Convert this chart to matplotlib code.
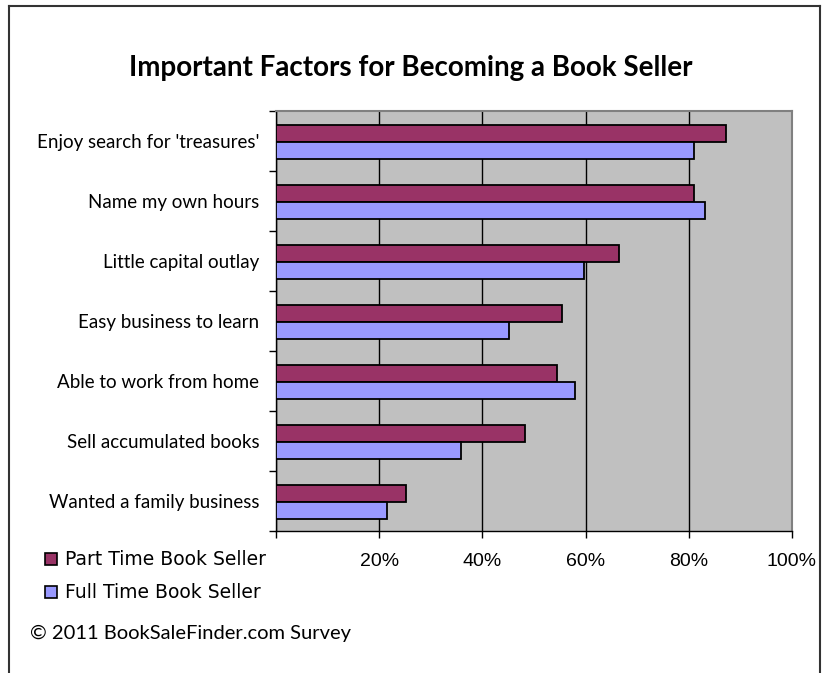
import numpy as np
import matplotlib.pyplot as plt
from matplotlib.patches import Patch
from matplotlib.lines import Line2D

# survey data (percent of respondents)
factors = ["Enjoy search for 'treasures'", "Name my own hours", "Little capital outlay",
           "Easy business to learn", "Able to work from home", "Sell accumulated books",
           "Wanted a family business"]
part_time = [87.3, 81.0, 66.4, 55.5, 54.5, 48.3, 25.2]
full_time = [81.0, 83.1, 59.6, 45.1, 57.9, 35.9, 21.6]
xticks = [20, 40, 60, 80, 100]
xtick_labels = ["20%", "40%", "60%", "80%", "100%"]

purple = "#993366"
lilac = "#9999FF"

fig = plt.figure(figsize=(8.23, 6.73), dpi=100)
ax = fig.add_axes([276/823, 1 - 531/673, 516/823, 420/673])
ax.set_facecolor("#C0C0C0")

y = np.arange(len(factors))
h = 0.285
ax.barh(y - h/2 + 0.01, part_time, height=h, color=purple, edgecolor="black", linewidth=1.3,
        label="Part Time Book Seller", zorder=3)
ax.barh(y + h/2 + 0.01, full_time, height=h, color=lilac, edgecolor="black", linewidth=1.3,
        label="Full Time Book Seller", zorder=3)

ax.set_xlim(0, 100)
ax.set_ylim(len(factors) - 0.5, -0.5)

ax.set_xticks([0] + xticks)
ax.set_xticklabels([""] + xtick_labels, fontfamily="Liberation Sans", fontsize=14)
ax.xaxis.grid(True, color="black", linewidth=1.0, zorder=0)
ax.set_axisbelow(True)
ax.tick_params(axis="x", direction="out", length=5, width=1, pad=11)

ax.set_yticks(y)
ax.set_yticklabels(factors, fontfamily="Lato", fontsize=13.5)
ax.set_yticks(np.arange(len(factors) + 1) - 0.5, minor=True)
ax.tick_params(axis="y", which="major", length=0, pad=12)
ax.tick_params(axis="y", which="minor", direction="out", length=5, width=1)

for s in ["top", "right"]:
    ax.spines[s].set_color("#808080")
    ax.spines[s].set_linewidth(1.5)
for s in ["left", "bottom"]:
    ax.spines[s].set_color("black")
    ax.spines[s].set_linewidth(1.0)

fig.text(411/823, 1 - 68/673, "Important Factors for Becoming a Book Seller",
         ha="center", va="center", fontfamily="Lato", fontweight="bold", fontsize=20)

handles = [Patch(facecolor=purple, edgecolor="black", linewidth=1.2),
           Patch(facecolor=lilac, edgecolor="black", linewidth=1.2)]
fig.legend(handles, ["Part Time Book Seller", "Full Time Book Seller"],
           loc="upper left", bbox_to_anchor=(36/823, 1 - 541/673), frameon=False,
           prop={"family": "DejaVu Sans", "size": 13.5}, handlelength=0.6, handleheight=0.6,
           handletextpad=0.45, labelspacing=0.75, borderpad=0)

fig.text(30/823, 1 - 633/673, "\u00a9 2011 BookSaleFinder.com Survey",
         ha="left", va="center", fontfamily="Lato", fontsize=14.5)

# outer frame (open at the bottom)
frame = dict(color="#333333", linewidth=1.5, transform=fig.transFigure)
fig.add_artist(Line2D([9/823, 9/823], [0, 1 - 6/673], **frame))
fig.add_artist(Line2D([9/823, 820/823], [1 - 6/673, 1 - 6/673], **frame))
fig.add_artist(Line2D([820/823, 820/823], [0, 1 - 6/673], **frame))

fig.savefig("out.png", dpi=100)
